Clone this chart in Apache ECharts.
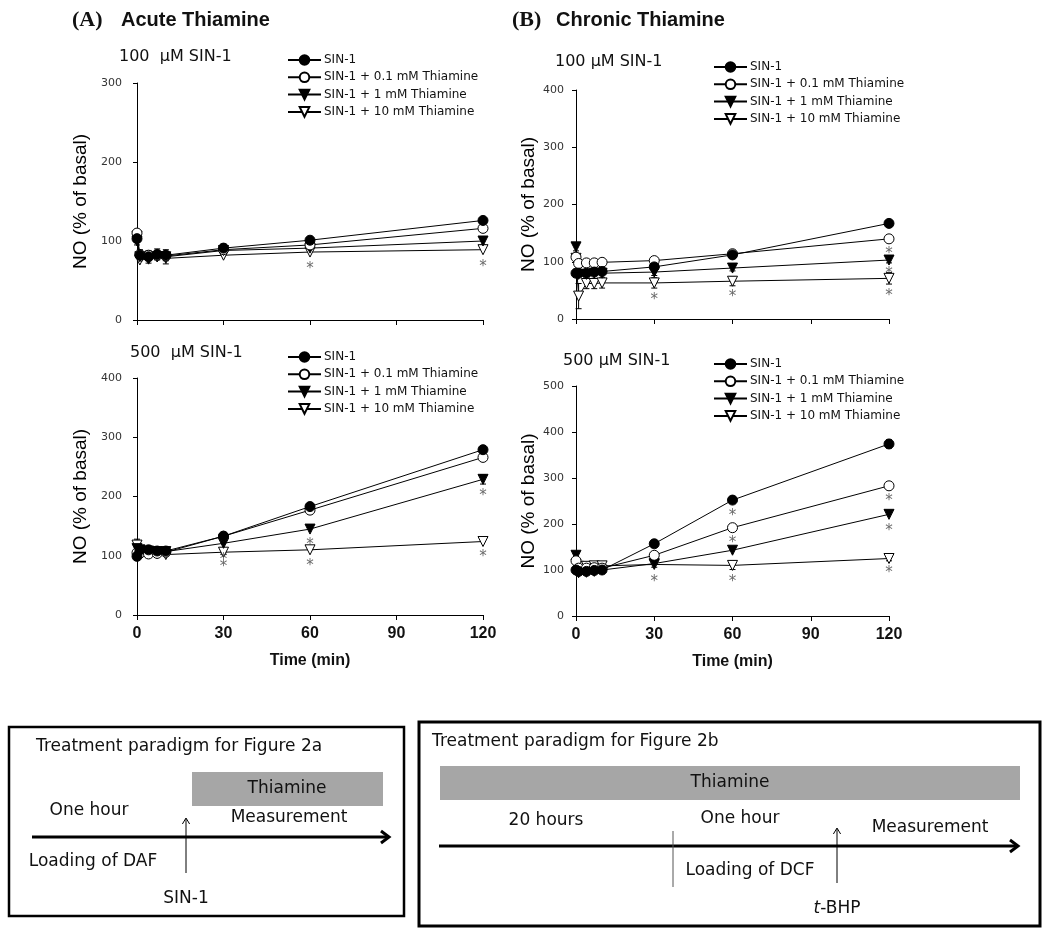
<!DOCTYPE html>
<html>
<head>
<meta charset="utf-8">
<script src="https://cdn.jsdelivr.net/npm/echarts@6/dist/echarts.min.js"></script>
<style>
html,body{margin:0;padding:0;background:#fff;}
#chart{width:1050px;height:936px;}
</style>
</head>
<body>
<div id="chart"></div>
<script>
// ---------- data ----------
const times = [0, 1, 4, 7, 10, 30, 60, 120];
const seriesNames = ['SIN-1', 'SIN-1 + 0.1 mM Thiamine', 'SIN-1 + 1 mM Thiamine', 'SIN-1 + 10 mM Thiamine'];
const xTicks = [0, 30, 60, 90, 120];

// (A) Acute thiamine, 100 uM SIN-1
const acute100_sin1   = [103, 82, 80, 83, 82, 91, 101, 126];
const acute100_thia01 = [110, 83, 82, 82, 81, 89, 95, 116];
const acute100_thia1  = [100, 80, 78, 80, 80, 88, 91, 100];
const acute100_thia10 = [106, 76, 77, 80, 78, 82, 86, 89];
const acute100_stars  = [[60, 69], [120, 72]];
const acute100_err    = [[0, 103, 8], [1, 82, 7], [4, 80, 8], [7, 83, 7], [10, 82, 7], [10, 78, 7], [30, 91, 5], [120, 100, 5]];
const acute100_yTicks = [0, 100, 200, 300];

// (A) Acute thiamine, 500 uM SIN-1
const acute500_sin1   = [99, 110, 110, 108, 108, 133, 183, 279];
const acute500_thia01 = [105, 104, 103, 104, 106, 133, 177, 266];
const acute500_thia1  = [112, 110, 108, 107, 107, 121, 145, 229];
const acute500_thia10 = [118, 104, 103, 103, 102, 106, 110, 124];
const acute500_stars  = [[30, 99], [30, 87], [60, 124], [60, 90], [120, 207], [120, 104]];
const acute500_err    = [[0, 118, 10], [30, 106, 4], [120, 229, 8], [120, 279, 4]];
const acute500_yTicks = [0, 100, 200, 300, 400];

// (B) Chronic thiamine, 100 uM SIN-1
const chronic100_sin1   = [80, 80, 80, 82, 83, 91, 112, 167];
const chronic100_thia01 = [108, 97, 98, 98, 99, 102, 114, 140];
const chronic100_thia1  = [126, 78, 78, 80, 80, 82, 89, 103];
const chronic100_thia10 = [106, 40, 62, 62, 63, 63, 66, 71];
const chronic100_stars  = [[30, 40], [60, 45], [120, 120], [120, 85], [120, 47]];
const chronic100_err    = [[0, 126, 7], [1, 40, 22], [4, 62, 9], [7, 62, 9], [10, 63, 9], [30, 63, 9], [30, 82, 6], [60, 66, 8], [60, 89, 5], [120, 71, 10], [120, 103, 5]];
const chronic100_yTicks = [0, 100, 200, 300, 400];

// (B) Chronic thiamine, 500 uM SIN-1
const chronic500_sin1   = [100, 97, 97, 99, 100, 157, 252, 374];
const chronic500_thia01 = [120, 104, 104, 105, 104, 132, 192, 283];
const chronic500_thia1  = [132, 94, 95, 97, 100, 114, 143, 221];
const chronic500_thia10 = [113, 108, 108, 109, 109, 112, 110, 125];
const chronic500_stars  = [[30, 83], [60, 226], [60, 167], [60, 83], [120, 259], [120, 194], [120, 101]];
const chronic500_err    = [[0, 132, 6], [30, 112, 6], [60, 110, 9], [120, 374, 9], [120, 125, 5]];
const chronic500_yTicks = [0, 100, 200, 300, 400, 500];

// ---------- layout ----------
const panels = [
  {vals: [acute100_sin1, acute100_thia01, acute100_thia1, acute100_thia10], stars: acute100_stars, err: acute100_err, yTicks: acute100_yTicks,
   grid: {left: 137, top: 83, width: 346, height: 237}, showX: false, yGap: 47, yLabMargin: 15,
   legend: {left: 282, top: 49}},
  {vals: [acute500_sin1, acute500_thia01, acute500_thia1, acute500_thia10], stars: acute500_stars, err: acute500_err, yTicks: acute500_yTicks,
   grid: {left: 137, top: 378, width: 346, height: 237}, showX: true, yGap: 47, yLabMargin: 15,
   legend: {left: 282, top: 346}},
  {vals: [chronic100_sin1, chronic100_thia01, chronic100_thia1, chronic100_thia10], stars: chronic100_stars, err: chronic100_err, yTicks: chronic100_yTicks,
   grid: {left: 576, top: 90, width: 313, height: 229}, showX: false, yGap: 38, yLabMargin: 12,
   legend: {left: 708, top: 56}},
  {vals: [chronic500_sin1, chronic500_thia01, chronic500_thia1, chronic500_thia10], stars: chronic500_stars, err: chronic500_err, yTicks: chronic500_yTicks,
   grid: {left: 576, top: 386, width: 313, height: 230}, showX: true, yGap: 38, yLabMargin: 12,
   legend: {left: 708, top: 353}}
];

const styles = [
  {symbol: 'circle', rot: 0, fill: '#000'},
  {symbol: 'circle', rot: 0, fill: '#fff'},
  {symbol: 'triangle', rot: 180, fill: '#000'},
  {symbol: 'triangle', rot: 180, fill: '#fff'}
];

function renderErr(params, api) {
  const x = api.value(0), y = api.value(1), e = api.value(2);
  const lo = api.coord([x, y - e]), hi = api.coord([x, y + e]);
  const c = 3;
  const st = {stroke: '#000', lineWidth: 1};
  return {type: 'group', children: [
    {type: 'line', shape: {x1: lo[0], y1: lo[1], x2: hi[0], y2: hi[1]}, style: st},
    {type: 'line', shape: {x1: lo[0] - c, y1: lo[1], x2: lo[0] + c, y2: lo[1]}, style: st},
    {type: 'line', shape: {x1: hi[0] - c, y1: hi[1], x2: hi[0] + c, y2: hi[1]}, style: st}
  ]};
}

const grids = [], xAxes = [], yAxes = [], series = [], legends = [];
panels.forEach((p, pi) => {
  grids.push(Object.assign({containLabel: false}, p.grid));
  xAxes.push({
    type: 'value', gridIndex: pi, min: xTicks[0], max: xTicks[xTicks.length - 1], interval: xTicks[1] - xTicks[0],
    axisLine: {lineStyle: {color: '#000', width: 1}},
    axisTick: {show: true, length: 5, lineStyle: {color: '#000'}},
    axisLabel: {show: p.showX, margin: 11, color: '#111', fontSize: 16, fontWeight: 'bold', fontFamily: 'Liberation Sans, Arial'},
    splitLine: {show: false},
    name: p.showX ? 'Time (min)' : '', nameLocation: 'middle', nameGap: 38,
    nameTextStyle: {color: '#111', fontSize: 16, fontWeight: 'bold', fontFamily: 'Liberation Sans, Arial'}
  });
  yAxes.push({
    type: 'value', gridIndex: pi, min: p.yTicks[0], max: p.yTicks[p.yTicks.length - 1], interval: p.yTicks[1] - p.yTicks[0],
    axisLine: {show: true, lineStyle: {color: '#000', width: 1}},
    axisTick: {show: true, length: 4, lineStyle: {color: '#000'}},
    axisLabel: {margin: p.yLabMargin, color: '#333', fontSize: 11, fontFamily: 'DejaVu Sans'},
    splitLine: {show: false},
    name: 'NO (% of basal)', nameLocation: 'middle', nameGap: p.yGap, nameRotate: 90,
    nameTextStyle: {color: '#000', fontSize: 19, fontFamily: 'Liberation Sans, Arial'}
  });
  series.push({
    type: 'custom', name: 'err' + pi, xAxisIndex: pi, yAxisIndex: pi,
    data: p.err, renderItem: renderErr, z: 3, silent: true
  });
  p.vals.forEach((v, k) => {
    const st = styles[k];
    series.push({
      type: 'line', name: seriesNames[k], xAxisIndex: pi, yAxisIndex: pi,
      data: times.map((t, i) => [t, v[i]]),
      symbol: st.symbol, symbolSize: 10, symbolRotate: st.rot, showAllSymbol: true,
      itemStyle: {color: st.fill, borderColor: '#000', borderWidth: 1},
      lineStyle: {color: '#000', width: 1},
      z: 10 - k
    });
  });
  series.push({
    type: 'scatter', name: 'sig' + pi, xAxisIndex: pi, yAxisIndex: pi,
    data: p.stars, symbolSize: 2, itemStyle: {color: 'rgba(255,255,255,0)'},
    label: {show: true, position: 'inside', formatter: '*', color: '#444', fontSize: 15, fontFamily: 'DejaVu Sans', offset: [0, 4]},
    z: 12, silent: true
  });
  legends.push({
    orient: 'vertical', left: p.legend.left, top: p.legend.top, data: seriesNames,
    itemWidth: 33, itemHeight: 12, itemGap: 5.3, selectedMode: false,
    textStyle: {color: '#111', fontSize: 12, fontFamily: 'DejaVu Sans', padding: [0, 0, 0, -2], lineHeight: 12}
  });
});

// ---------- titles & schematic diagrams ----------
const txtFont = '17px "DejaVu Sans"';
function T(text, x, y, font, align, extra) {
  return Object.assign({type: 'text', style: {text: text, x: x, y: y, font: font || txtFont, fill: '#111', align: align || 'center', verticalAlign: 'middle'}}, extra || {});
}
function chevron(x, y, dir, s, w) {
  const pts = dir === 'right' ? [[x - s, y - s * 0.75], [x, y], [x - s, y + s * 0.75]] : [[x - s * 0.6, y + s], [x, y], [x + s * 0.6, y + s]];
  return {type: 'polyline', shape: {points: pts}, style: {stroke: '#000', lineWidth: w, fill: null}};
}

const graphics = [
  T('(A)', 72, 20, 'bold 22px "Liberation Serif"', 'left'),
  T('Acute Thiamine', 121, 20, 'bold 20px "Liberation Sans"', 'left'),
  T('(B)', 512, 20, 'bold 22px "Liberation Serif"', 'left'),
  T('Chronic Thiamine', 556, 20, 'bold 20px "Liberation Sans"', 'left'),
  T('100  μM SIN-1', 119, 57, '16px "DejaVu Sans"', 'left'),
  T('500  μM SIN-1', 130, 353, '16px "DejaVu Sans"', 'left'),
  T('100 μM SIN-1', 555, 62, '16px "DejaVu Sans"', 'left'),
  T('500 μM SIN-1', 563, 361, '16px "DejaVu Sans"', 'left'),

  // Box 1
  {type: 'rect', shape: {x: 9, y: 727, width: 395, height: 189}, style: {fill: null, stroke: '#000', lineWidth: 2.5}},
  T('Treatment paradigm for Figure 2a', 36, 747, txtFont, 'left'),
  {type: 'rect', shape: {x: 192, y: 772, width: 191, height: 34}, style: {fill: '#a6a6a6'}},
  T('Thiamine', 287, 789),
  T('One hour', 89, 811),
  T('Measurement', 289, 818),
  {type: 'line', shape: {x1: 32, y1: 837, x2: 388, y2: 837}, style: {stroke: '#000', lineWidth: 3}},
  chevron(389, 837, 'right', 8, 3),
  {type: 'line', shape: {x1: 186, y1: 873, x2: 186, y2: 819}, style: {stroke: '#000', lineWidth: 1}},
  chevron(186, 818, 'up', 6, 1),
  T('Loading of DAF', 93, 862),
  T('SIN-1', 186, 899),

  // Box 2
  {type: 'rect', shape: {x: 419, y: 722, width: 621, height: 204}, style: {fill: null, stroke: '#000', lineWidth: 3}},
  T('Treatment paradigm for Figure 2b', 432, 742, txtFont, 'left'),
  {type: 'rect', shape: {x: 440, y: 766, width: 580, height: 34}, style: {fill: '#a6a6a6'}},
  T('Thiamine', 730, 783),
  T('20 hours', 546, 821),
  T('One hour', 740, 819),
  T('Measurement', 930, 828),
  {type: 'line', shape: {x1: 439, y1: 846, x2: 1017, y2: 846}, style: {stroke: '#000', lineWidth: 3}},
  chevron(1018, 846, 'right', 8, 3),
  {type: 'line', shape: {x1: 673, y1: 831, x2: 673, y2: 887}, style: {stroke: '#555', lineWidth: 1}},
  {type: 'line', shape: {x1: 837, y1: 883, x2: 837, y2: 829}, style: {stroke: '#000', lineWidth: 1}},
  chevron(837, 828, 'up', 6, 1),
  T('Loading of DCF', 750, 871),
  {type: 'text', style: {text: '{i|t}-BHP', x: 837, y: 909, font: txtFont, fill: '#111', align: 'center', verticalAlign: 'middle',
    rich: {i: {fontStyle: 'italic', fontSize: 17, fontFamily: 'DejaVu Sans', fill: '#111'}}}}
];

const chart = echarts.init(document.getElementById('chart'), null, {renderer: 'canvas'});
chart.setOption({
  animation: false,
  backgroundColor: '#fff',
  grid: grids,
  xAxis: xAxes,
  yAxis: yAxes,
  legend: legends,
  series: series,
  graphic: graphics
});
</script>
</body>
</html>
